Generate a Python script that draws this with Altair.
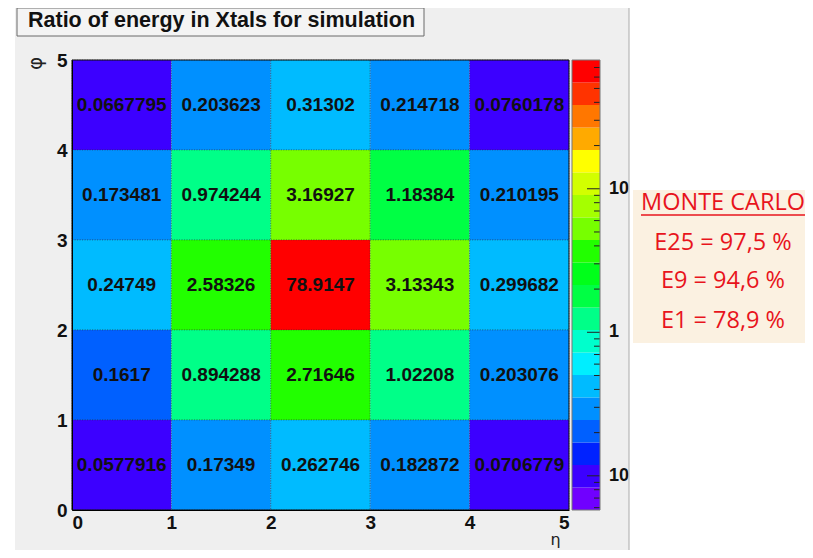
import altair as alt
import pandas as pd
import numpy as np

# ---------------- data ----------------
title_text = "Ratio of energy in Xtals for simulation"
eta_low = [0, 1, 2, 3, 4]
phi_low = [4, 3, 2, 1, 0]
row_phi4 = [0.0667795, 0.203623, 0.31302, 0.214718, 0.0760178]
row_phi3 = [0.173481, 0.974244, 3.16927, 1.18384, 0.210195]
row_phi2 = [0.24749, 2.58326, 78.9147, 3.13343, 0.299682]
row_phi1 = [0.1617, 0.894288, 2.71646, 1.02208, 0.203076]
row_phi0 = [0.0577916, 0.17349, 0.262746, 0.182872, 0.0706779]
axis_ticks = [0, 1, 2, 3, 4, 5]
cbar_major = [0.1, 1, 10]
cbar_major_labels = ["10\u207b\u00b9", "1", "10"]
mc_lines = ["MONTE CARLO", "E25 = 97,5 %", "E9 = 94,6 %", "E1 = 78,9 %"]

# ROOT-like palette, bottom -> top of the colour bar (20 contour levels)
PALETTE = ["#7000ff", "#3c00ff", "#0022ff", "#0060ff", "#0090ff",
           "#00bbff", "#00eeff", "#00ffcc", "#00ff88", "#00ff44",
           "#00ff1a", "#22ff00", "#77ff00", "#a5ff00", "#d2ff00",
           "#ffff00", "#ffaa00", "#ff7700", "#ff3300", "#ff0000"]

rows = [row_phi4, row_phi3, row_phi2, row_phi1, row_phi0]
recs = []
for p, row in zip(phi_low, rows):
    for e, v in zip(eta_low, row):
        recs.append({"eta": e, "phi": p, "val": v})
cells_df = pd.DataFrame(recs)

vmin = cells_df["val"].min()
vmax = cells_df["val"].max()
nlev = len(PALETTE)
lmin, lmax = np.log10(vmin), np.log10(vmax)
edges = [10 ** (lmin + i * (lmax - lmin) / nlev) for i in range(nlev + 1)]
thresholds = edges[1:-1]
cell_colors = PALETTE[1:] + [PALETTE[-1]]

bands_df = pd.DataFrame({"lo": edges[:-1], "hi": edges[1:], "col": PALETTE})
minor_vals = [m * 10 ** d for d in (-2, -1, 0, 1) for m in range(2, 10)
              if vmin <= m * 10 ** d <= vmax]
minor_df = pd.DataFrame({"v": minor_vals})
major_df = pd.DataFrame({"v": cbar_major, "lab": cbar_major_labels})

one = pd.DataFrame({"a": [0]})
FONT = "Liberation Sans"

# ---------------- decoration ----------------
def box(x1, x2, y1, y2, **kw):
    return alt.Chart(one).mark_rect(**kw).encode(
        x=alt.value(x1), x2=alt.value(x2), y=alt.value(y1), y2=alt.value(y2))

white_left = box(-64, -57, -52, 490, fill="white")
title_box = box(-55, 352, -52, -24, fill="#f4f4f4", stroke="#6a6a6a", strokeWidth=1)
title_mark = alt.Chart(one).mark_text(
    text=title_text, font=FONT, fontSize=21.5, fontWeight="bold", color="#111",
    align="left", baseline="alphabetic").encode(x=alt.value(-44), y=alt.value(-33))

# ---------------- heat map ----------------
xs = alt.Scale(domain=[0, 5], nice=False, zero=False)
ys = alt.Scale(domain=[0, 5], nice=False, zero=False)

x_axis = alt.Axis(
    values=axis_ticks, format="d", grid=False, ticks=False, domain=True,
    domainColor="#000", labelFont=FONT, labelFontSize=19, labelFontWeight="bold",
    labelColor="#111", labelPadding=3, title="\u03b7", titleFont="DejaVu Sans",
    titleFontSize=16, titleFontWeight="normal", titleColor="#222",
    titleX=483, titleY=34, titleBaseline="alphabetic", titleAlign="center",
    zindex=1)
y_axis = alt.Axis(
    values=axis_ticks, format="d", grid=False, ticks=False, domain=True,
    domainColor="#000", labelFont=FONT, labelFontSize=19, labelFontWeight="bold",
    labelColor="#111", labelPadding=5, title="\u03c6", titleFont="DejaVu Sans",
    titleFontSize=20, titleFontWeight="normal", titleColor="#222",
    titleX=-37, titleY=3, titleAngle=-90, titleAlign="center",
    titleBaseline="middle", zindex=1)

base = alt.Chart(cells_df).transform_calculate(
    eta2="datum.eta + 1", phi2="datum.phi + 1",
    xc="datum.eta + 0.5", yc="datum.phi + 0.5")

rects = base.mark_rect(stroke="#333", strokeWidth=0.7, strokeDash=[1, 1.5],
                       strokeOpacity=0.7).encode(
    x=alt.X("eta:Q", scale=xs, axis=x_axis),
    x2="eta2:Q",
    y=alt.Y("phi:Q", scale=ys, axis=y_axis),
    y2="phi2:Q",
    color=alt.Color("val:Q", scale=alt.Scale(type="threshold", domain=thresholds,
                                             range=cell_colors), legend=None),
)

texts = base.mark_text(font=FONT, fontSize=19, fontWeight="bold", color="#111",
                       baseline="middle").encode(
    x=alt.X("xc:Q", scale=xs, axis=x_axis),
    y=alt.Y("yc:Q", scale=ys, axis=None),
    text=alt.Text("val:Q", format=".6~g"),
)

frame = box(0, 497, 0, 450, fill=None, filled=False, stroke="#111", strokeWidth=1)

# ---------------- colour bar ----------------
cs = alt.Scale(type="log", domain=[vmin, vmax], nice=False)
cb_rects = alt.Chart(bands_df).mark_rect().encode(
    y=alt.Y("lo:Q", scale=cs, axis=None), y2="hi:Q",
    x=alt.value(500), x2=alt.value(528),
    color=alt.Color("col:N", scale=None, legend=None))
cb_minor = alt.Chart(minor_df).mark_rule(color="#222", strokeWidth=1).encode(
    y=alt.Y("v:Q", scale=cs, axis=None), x=alt.value(522), x2=alt.value(528))
cb_major = alt.Chart(major_df).mark_rule(color="#222", strokeWidth=1).encode(
    y=alt.Y("v:Q", scale=cs, axis=None), x=alt.value(515), x2=alt.value(528))
cb_labels = alt.Chart(major_df).mark_text(
    font=FONT, fontSize=18, fontWeight="bold", color="#111",
    align="left", baseline="middle").encode(
    y=alt.Y("v:Q", scale=cs, axis=None), x=alt.value(537), text="lab:N")
cb_frame = box(500, 528, 0, 450, fill=None, filled=False, stroke="#777", strokeWidth=1)

# ---------------- right-hand side ----------------
white_right = box(557, 760, -52, 490, fill="white")
vline = alt.Chart(one).mark_rule(color="#aaaaaa", strokeWidth=1).encode(
    x=alt.value(557), y=alt.value(-52), y2=alt.value(490))
mc_box = box(561, 760, 130, 283, fill="#fbf1e1")
mc_y = [143, 183, 221, 261]
mc_texts = [alt.Chart(one).mark_text(
    text=t, font="Open Sans", fontSize=23.5, color="#e8141c",
    align="center", baseline="middle").encode(x=alt.value(651), y=alt.value(yy))
    for t, yy in zip(mc_lines, mc_y)]
underline = alt.Chart(one).mark_rule(color="#e8141c", strokeWidth=1.5).encode(
    x=alt.value(569), x2=alt.value(733), y=alt.value(155))

chart = alt.layer(
    white_left, title_box, title_mark, rects, texts, frame,
    cb_rects, cb_minor, cb_major, cb_labels, cb_frame,
    white_right, vline, mc_box, *mc_texts, underline
).resolve_scale(y="independent", color="independent").properties(
    width=497, height=450,
    autosize="none",
    padding={"left": 64, "top": 52, "right": 236, "bottom": 40},
    background="#efefef",
).configure_view(stroke=None)

chart.save("out.html", embed_options={"renderer": "svg", "actions": False})
